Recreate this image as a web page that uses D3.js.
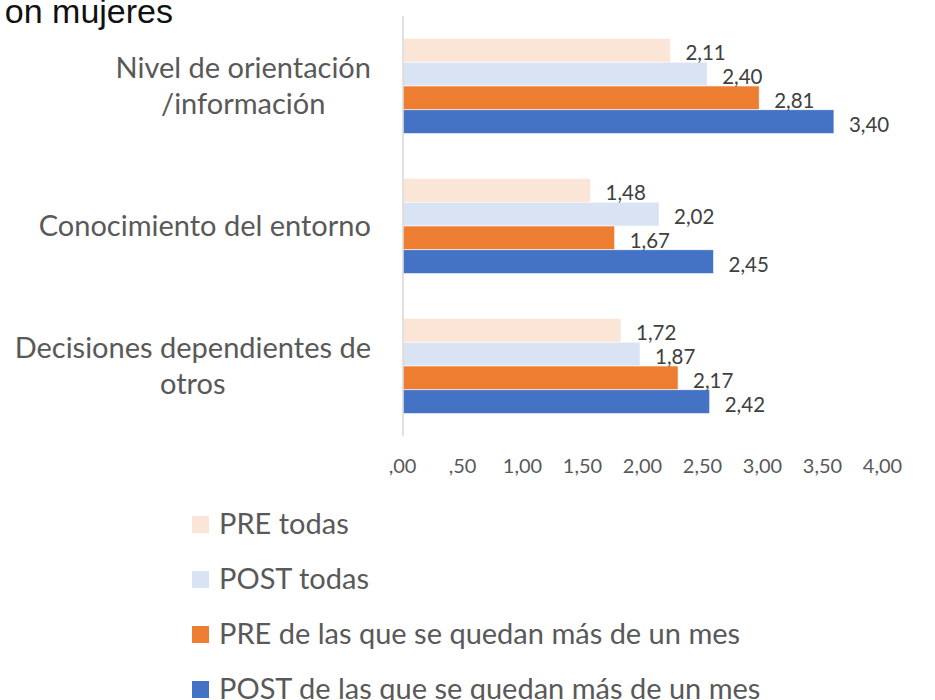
<!DOCTYPE html>
<html>
<head>
<meta charset="utf-8">
<script src="https://cdn.jsdelivr.net/npm/d3@7"></script>
<style>
  html, body { margin: 0; padding: 0; background: #fff; }
  svg { display: block; }
</style>
</head>
<body>
<script>
const categories = [
  ["Nivel de orientación", "/información"],
  ["Conocimiento del entorno"],
  ["Decisiones dependientes de", "otros"]
];
const categoryKeys = ["orientacion", "entorno", "decisiones"];
const seriesNames = [
  "PRE todas",
  "POST todas",
  "PRE de las que se quedan más de un mes",
  "POST de las que se quedan más de un mes"
];
const preTodas = [2.11, 1.48, 1.72];
const postTodas = [2.40, 2.02, 1.87];
const preMes = [2.81, 1.67, 2.17];
const postMes = [3.40, 2.45, 2.42];
const tickValues = [0, 0.5, 1, 1.5, 2, 2.5, 3, 3.5, 4];
const seriesColors = ["#FBE5D6", "#DAE3F3", "#ED7D31", "#4472C4"];
const titleText = "on mujeres";

const seriesValues = [preTodas, postTodas, preMes, postMes];
const W = 935, H = 700;
const FONT = "Lato, 'Open Sans', sans-serif";
const svg = d3.select("body").append("svg").attr("width", W).attr("height", H);

const fmt = v => { let s = v.toFixed(2).replace(".", ","); if (s.startsWith("0")) s = s.slice(1); return s; };

// scales
const x = d3.scaleLinear().domain([0, 4]).range([403, 910]);
const xTicks = d3.scaleLinear().domain([0, 4]).range([402, 882]);
const y = d3.scaleBand().domain(categoryKeys).range([16, 436]).paddingInner(0.32).paddingOuter(0.16);
const ys = d3.scaleBand().domain(d3.range(seriesNames.length)).range([0, y.bandwidth()]);

// title (partially visible, cut at the left edge as in the source)
svg.append("text").attr("x", 173).attr("y", 23).attr("text-anchor", "end")
  .attr("font-family", "'Liberation Sans', Arial, sans-serif").attr("font-size", 34)
  .attr("fill", "#111").text(titleText);

// bars
const rows = [];
categoryKeys.forEach((c, ci) => seriesValues.forEach((vals, si) => rows.push({c, si, v: vals[ci]})));
svg.append("g").selectAll("rect").data(rows).join("rect")
  .attr("x", x(0)).attr("y", d => y(d.c) + ys(d.si))
  .attr("width", d => x(d.v) - x(0)).attr("height", ys.bandwidth())
  .attr("fill", d => seriesColors[d.si])
  .attr("stroke", "#fff").attr("stroke-width", 0.6);

// value labels
svg.append("g").selectAll("text").data(rows).join("text")
  .attr("x", d => x(d.v) + 15).attr("y", d => y(d.c) + ys(d.si) + ys.bandwidth() / 2 + 3)
  .attr("dy", "0.35em").attr("font-family", FONT).attr("font-size", 20.5)
  .attr("fill", "#404040").text(d => fmt(d.v));

// vertical axis line
svg.append("line").attr("x1", x(0)).attr("x2", x(0)).attr("y1", 16).attr("y2", 436)
  .attr("stroke", "#d9d9d9").attr("stroke-width", 1.5);

// category labels
const catG = svg.append("g").attr("font-family", FONT).attr("font-size", 29).attr("fill", "#595959");
categoryKeys.forEach((c, ci) => {
  const lines = categories[ci];
  const lh = 36;
  const cy = y(c) + y.bandwidth() / 2;
  const t = catG.append("text").attr("text-anchor", "middle");
  const tsp = lines.map((ln, li) => t.append("tspan")
      .attr("y", cy + (li - (lines.length - 1) / 2) * lh).attr("dy", "0.35em").text(ln));
  const maxW = d3.max(tsp, s => s.node().getComputedTextLength());
  tsp.forEach(s => s.attr("x", 371 - maxW / 2));
});

// x axis tick labels
const axis = d3.axisBottom(xTicks).tickValues(tickValues).tickSize(0).tickFormat(fmt);
const ax = svg.append("g").attr("transform", "translate(0,456)").call(axis);
ax.select(".domain").remove();
ax.selectAll("text").attr("font-family", FONT).attr("font-size", 20).attr("fill", "#595959");

// legend
const lg = svg.append("g").attr("font-family", FONT).attr("font-size", 29).attr("fill", "#595959");
seriesNames.forEach((n, i) => {
  const cy = 524 + i * 55;
  lg.append("rect").attr("x", 192).attr("y", cy - 8).attr("width", 17).attr("height", 17).attr("fill", seriesColors[i]);
  lg.append("text").attr("x", 219).attr("y", cy).attr("dy", "0.35em").text(n);
});
</script>
</body>
</html>
